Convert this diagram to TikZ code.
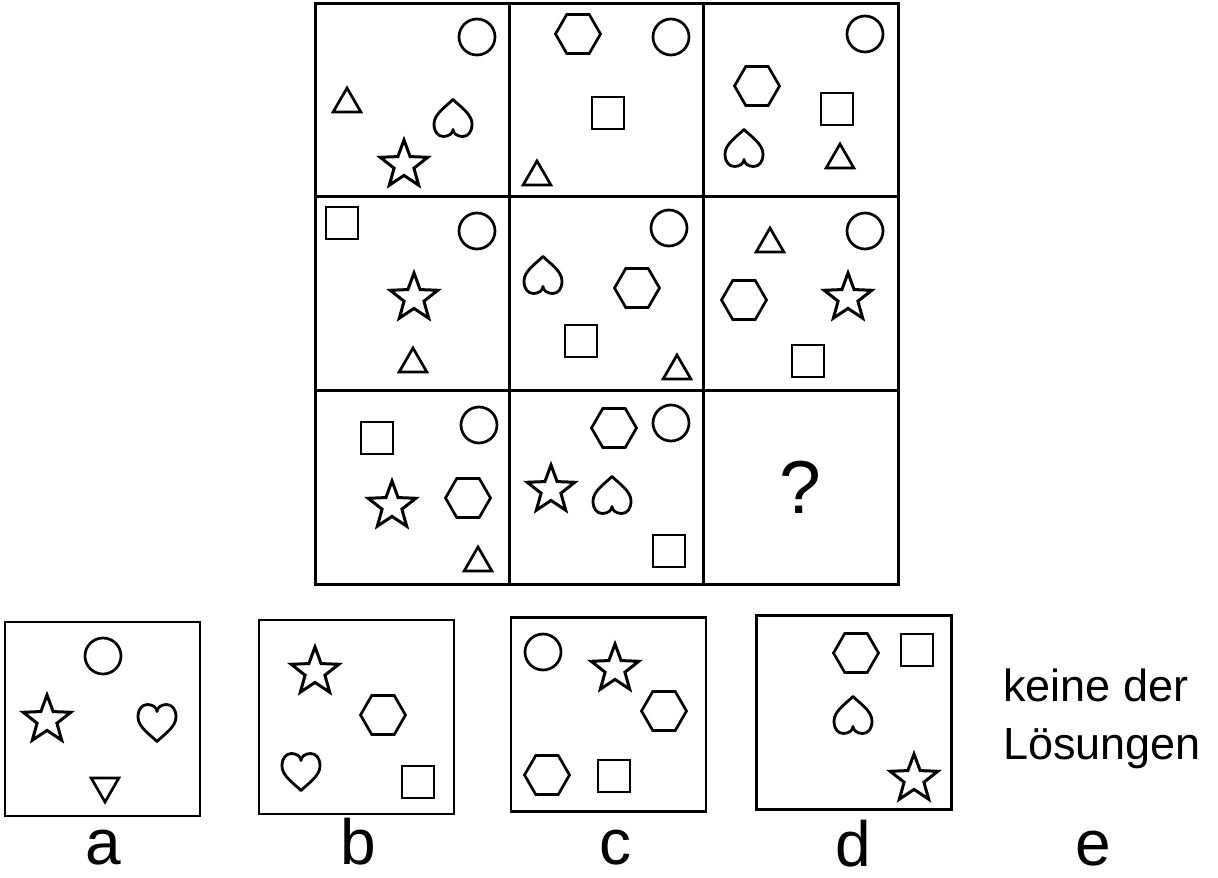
\documentclass[tikz,border=0pt]{standalone}
\usepackage{fontspec}
\setmainfont{Liberation Sans}
\usetikzlibrary{shapes.geometric}
\tikzset{
  form/.style={draw=black,line width=2.7pt,inner sep=0pt,outer sep=0pt},
  kreis/.style={form,circle,minimum size=36pt},
  quadrat/.style={form,rectangle,minimum size=32pt},
  sechseck/.style={form,regular polygon,regular polygon sides=6,minimum size=45pt},
  dreieck/.style={form,regular polygon,regular polygon sides=3,minimum size=32pt,yshift=-4pt},
  dreieckr/.style={form,regular polygon,regular polygon sides=3,minimum size=32pt,
                   shape border rotate=180,yshift=4pt},
  stern/.style={form,star,star points=5,star point ratio=2.4,minimum size=50pt,
                line width=3pt,yshift=-2pt},
  herz/.pic={
    \draw[line width=2.8pt,line join=round]
      (0,-18.5) .. controls (-7,-11.5) and (-19,-4) .. (-19,6)
      .. controls (-19,14) and (-15,18.5) .. (-9.5,18.5)
      .. controls (-4,18.5) and (0,15) .. (0,11.5)
      .. controls (0,15) and (4,18.5) .. (9.5,18.5)
      .. controls (15,18.5) and (19,14) .. (19,6)
      .. controls (19,-4) and (7,-11.5) .. cycle;
  },
  feld/.style={draw=black,line width=3pt,minimum width=194.33pt,minimum height=193.67pt,
               inner sep=0pt,outer sep=0pt},
  rahmen/.style={draw=black,line width=2.8pt,minimum width=195pt,minimum height=194pt,
                 inner sep=0pt,outer sep=0pt},
  etikett/.style={anchor=base,inner sep=0pt,font=\fontsize{64}{70}\selectfont},
}
\begin{document}
\begin{tikzpicture}[x=1pt,y=-1pt]
\useasboundingbox (0,0) rectangle (1218,878);

% Matrix 3x3
\foreach \r in {1,2,3}
  \foreach \c in {1,2,3}
    \node[feld] (f\r\c) at ({315+194.33*(\c-0.5)},{3+193.67*(\r-0.5)}) {};

\node[font=\fontsize{75}{80}\selectfont,inner sep=0pt] (frage) at (f33) {?};

% Antwortfelder
\node[rahmen] (a) at (102.5,719) {};
\node[rahmen] (b) at (356.5,717) {};
\node[rahmen] (c) at (608.5,714.5) {};
\node[rahmen] (d) at (854,712.5) {};

% Formen
\foreach \x/\y [count=\i] in {477/37,671/37,865/34,477/231,669/228,865/231,479/425,671/423,
                              103/656,543/652}
  \node[kreis] (kr\i) at (\x,\y) {};
\foreach \x/\y [count=\i] in {608/113,837/109,342/223,581/341,808/361,377/438,669/551,
                              418/782,614/776,917/650}
  \node[quadrat] (qu\i) at (\x,\y) {};
\foreach \x/\y [count=\i] in {578/34,757/86,637/288,744/300,468/498,614/428,
                              383/715,664/711,547/775,856/653}
  \node[sechseck] (se\i) at (\x,\y) {};
\foreach \x/\y [count=\i] in {347/100,537/173,840/156,413/360,677/367,770/240,478/559}
  \node[dreieck] (dr\i) at (\x,\y) {};
\node[dreieckr] (dr8) at (105,790) {};
\foreach \x/\y [count=\i] in {404/163,414/296,848/296,392/504,551/488,
                              47/718,315/670,615/667,914/777}
  \node[stern] (st\i) at (\x,\y) {};
\foreach \x/\y [count=\i] in {453/118,744/148,543/275,612/495,853/715}
  \pic (hz\i) at (\x,\y) {herz};
\pic[yscale=-1] (hz6) at (157,723) {herz};
\pic[yscale=-1] (hz7) at (301,772) {herz};

% Beschriftung
\node[etikett] (la) at (103,864) {a};
\node[etikett] (lb) at (358,864) {b};
\node[etikett] (lc) at (615,864) {c};
\node[etikett] (ld) at (853,866) {d};
\node[etikett] (le) at (1093,865) {e};
\node[anchor=west,align=left,inner sep=0pt,font=\fontsize{45}{58}\selectfont] (keine)
  at (1003,719) {keine der\\Lösungen};

\end{tikzpicture}
\end{document}
